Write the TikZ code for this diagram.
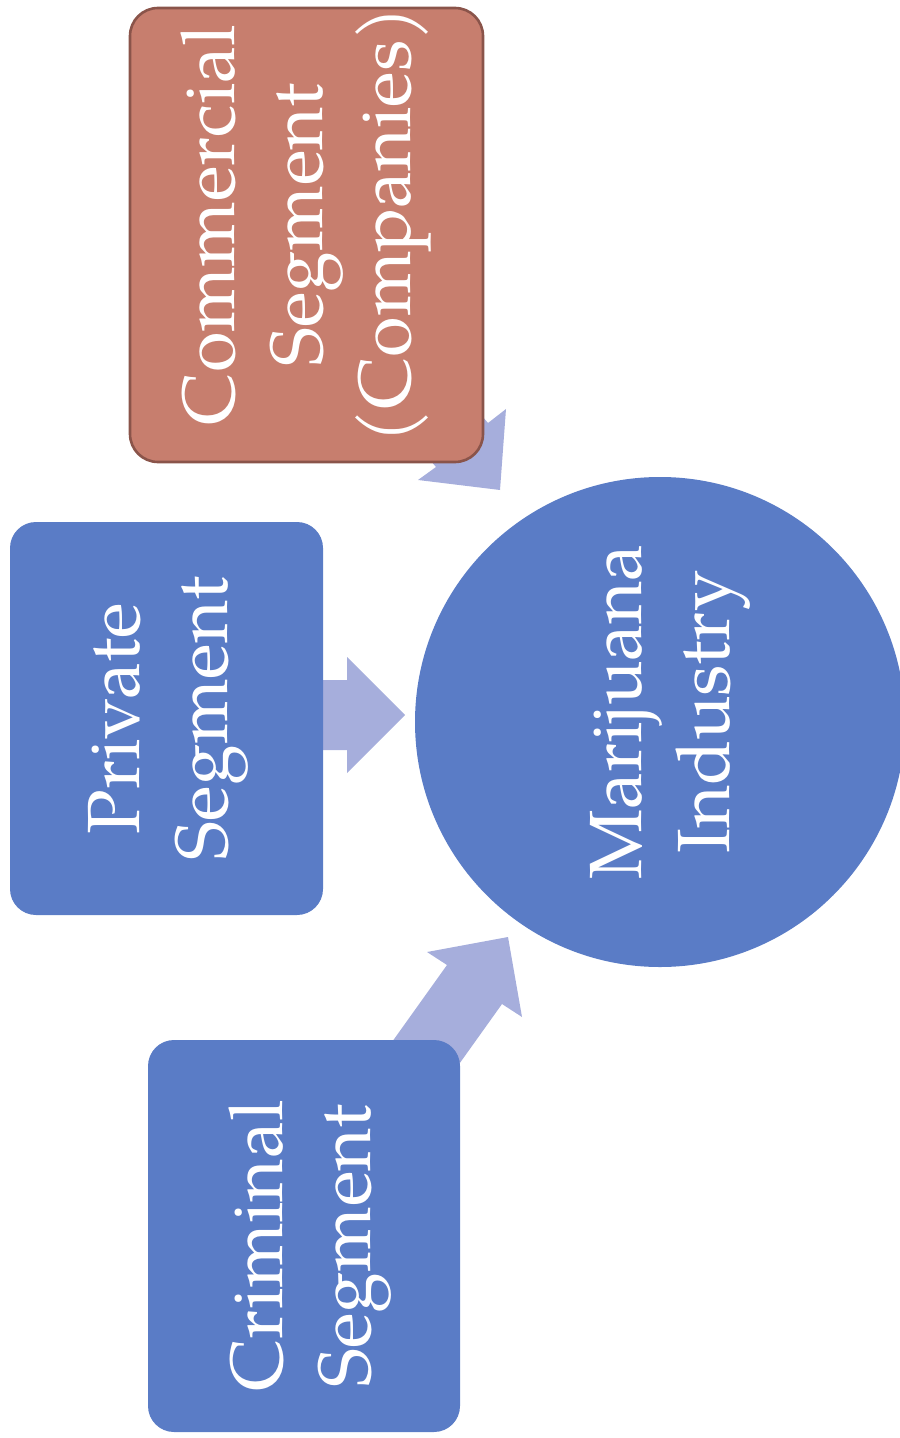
\documentclass[tikz,border=0pt]{standalone}
\usepackage{fontspec}
\setmainfont{TeX Gyre Pagella}
\definecolor{boxblue}{RGB}{90,124,198}
\definecolor{arrowlav}{RGB}{166,174,220}
\definecolor{salmon}{RGB}{199,126,110}
\definecolor{salmonedge}{RGB}{138,84,74}
\tikzset{
  segbox/.style={fill=boxblue, draw=none, rounded corners=13pt},
  combox/.style={fill=salmon, draw=salmonedge, line width=1.3pt, rounded corners=14pt},
  lbl/.style={text=white, rotate=90, align=center, font=\fontsize{37}{44}\selectfont},
  flow/.style={fill=arrowlav, draw=none}
}
\begin{document}
\begin{tikzpicture}[x=0.5pt, y=-0.5pt]
\useasboundingbox (0,0) rectangle (899,1438);
% arrows (drawn first, behind the boxes)
\fill[flow] (300,680) -- (347,680) -- (347,657) -- (405,715) -- (347,773) -- (347,750) -- (300,750) -- cycle;
\fill[flow] (391,309) -- (488,423) -- (506,409) -- (500,490) -- (418,480) -- (436,467) -- (339,353) -- cycle;
\fill[flow] (377,1063) -- (447,965) -- (427,952) -- (508,937) -- (522,1017) -- (502,1004) -- (432,1102) -- cycle;
% boxes
\node[combox, minimum width=176.5pt, minimum height=227pt, inner sep=0pt] (com) at (306.5,235) {};
\node[segbox, minimum width=156.5pt, minimum height=196.5pt, inner sep=0pt] (pri) at (166.5,718.5) {};
\node[segbox, minimum width=156pt, minimum height=196pt, inner sep=0pt] (cri) at (304,1236) {};
\node[circle, fill=boxblue, minimum size=245pt, inner sep=0pt] (ind) at (660,722) {};
% labels
\node[lbl] at ([yshift=5pt]com.center) {Commercial\\Segment\\(Companies)};
\node[lbl] at ([xshift=1pt]pri.center) {Private\\Segment};
\node[lbl] at ([xshift=3pt,yshift=-5pt]cri.center) {Criminal\\Segment};
\node[lbl] at ([xshift=5pt,yshift=5pt]ind.center) {Marijuana\\Industry};
\end{tikzpicture}
\end{document}
